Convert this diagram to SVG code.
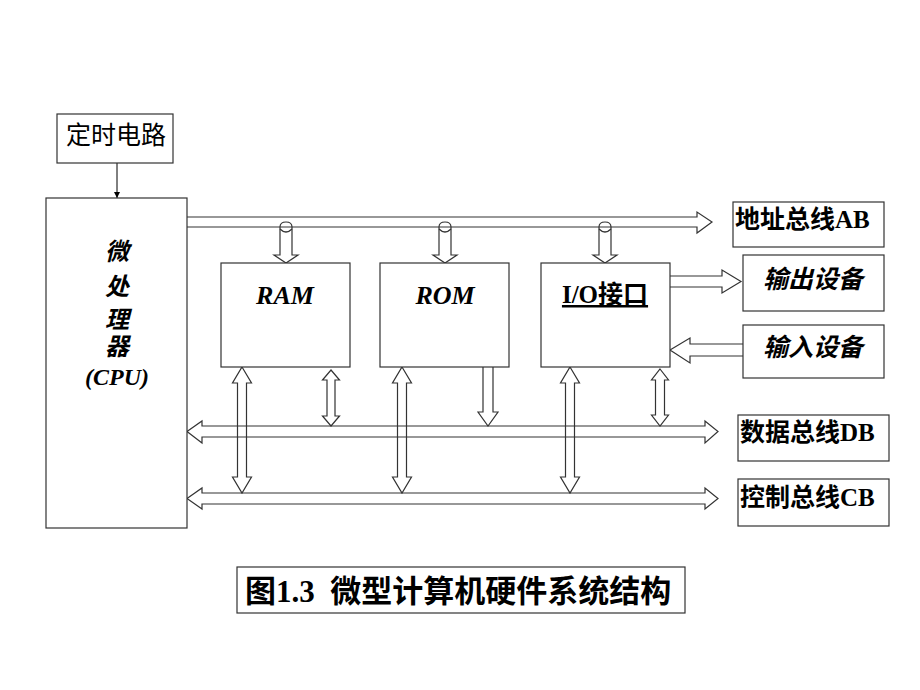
<svg xmlns="http://www.w3.org/2000/svg" width="920" height="690" viewBox="0 0 920 690">
<defs>
<style>
.box{fill:#fff;stroke:#333;stroke-width:1.2}
.arr{fill:none;stroke:#333;stroke-width:1.2;stroke-linejoin:miter}
.t{font-family:"Liberation Serif","Noto Sans CJK SC",serif;font-size:25px;fill:#000;font-weight:bold}
.ti{font-family:"Liberation Serif","Noto Sans CJK SC",serif;font-size:24px;fill:#000;font-style:italic;font-weight:bold}
.c{font-family:"Noto Sans CJK SC","Liberation Serif",sans-serif;font-size:25px;fill:#000;font-weight:normal}
</style>
<marker id="ah" viewBox="0 0 10 10" refX="10" refY="5" markerWidth="6" markerHeight="6" orient="auto"><path d="M0,0 L10,5 L0,10 Z" fill="#000"/></marker>
</defs>
<rect width="920" height="690" fill="#fff"/>

<g id="connectors">
<line x1="117" y1="163" x2="117" y2="198" stroke="#000" stroke-width="1" marker-end="url(#ah)"/>
<path class="arr" d="M187,217 H697 V212 L712,222 L697,233 V227 H187"/>
<path class="arr" d="M280,227 Q280,222 286,222 Q292,222 292,227 V255 H298 L286,263 L274,255 H280 Z"/>
<path class="arr" d="M280,229 Q286,235 292,229"/>
<path class="arr" d="M439,227 Q439,222 445,222 Q451,222 451,227 V255 H457 L445,263 L433,255 H439 Z"/>
<path class="arr" d="M439,229 Q445,235 451,229"/>
<path class="arr" d="M599,227 Q599,222 605,222 Q611,222 611,227 V255 H617 L605,263 L593,255 H599 Z"/>
<path class="arr" d="M599,229 Q605,235 611,229"/>
<path class="arr" d="M670,276 H722 V270 L741,281.5 L722,293 V287 H670"/>
<path class="arr" d="M743,344 H690 V338 L670,350 L690,363 V356 H743"/>
<path class="arr" d="M187,431.5 L202,421 V426 H705 V421 L718,431.5 L705,443 V437 H202 V443 Z"/>
<path class="arr" d="M187,498.5 L202,488 V493 H705 V488 L718,498.5 L705,509 V504 H202 V509 Z"/>
<path class="arr" d="M242,367 L251.5,383 H246.5 V477 H251.5 L242,493 L232.5,477 H237.5 V383 H232.5 Z"/>
<path class="arr" d="M402,367 L411.5,383 H406.5 V477 H411.5 L402,493 L392.5,477 H397.5 V383 H392.5 Z"/>
<path class="arr" d="M570,367 L579.5,383 H574.5 V477 H579.5 L570,493 L560.5,477 H565.5 V383 H560.5 Z"/>
<path class="arr" d="M331,370 L339.5,380 H335 V416 H339.5 L331,426 L322.5,416 H327 V380 H322.5 Z"/>
<path class="arr" d="M660,369 L668.5,380 H664.5 V415 H668.5 L660,426 L651.5,415 H655.5 V380 H651.5 Z"/>
<path class="arr" d="M483,367 V412 H478 L488,426 L498,412 H493 V367"/>
</g>

<g id="timer">
<rect class="box" x="57" y="114" width="116" height="49"/>
<text class="c" x="116" y="144" text-anchor="middle">定时电路</text>
</g>

<g id="cpu">
<rect class="box" x="46" y="198" width="141" height="330"/>
<g class="ti" text-anchor="middle">
<text x="117" y="260">微</text>
<text x="117" y="295">处</text>
<text x="117" y="328">理</text>
<text x="117" y="355">器</text>
<text x="117" y="385">(CPU)</text>
</g>
</g>

<g id="ram">
<rect class="box" x="221" y="263" width="129" height="104"/>
<text class="ti" x="285" y="304" text-anchor="middle" style="font-size:26px">RAM</text>
</g>
<g id="rom">
<rect class="box" x="380" y="263" width="129" height="104"/>
<text class="ti" x="445" y="304" text-anchor="middle" style="font-size:26px">ROM</text>
</g>
<g id="io">
<rect class="box" x="541" y="263" width="129" height="104"/>
<text class="t" x="605" y="303" text-anchor="middle" text-decoration="underline">I/O接口</text>
</g>

<g id="ab">
<rect class="box" x="733" y="202" width="151" height="45"/>
<text class="t" x="735" y="228">地址总线AB</text>
</g>
<g id="out">
<rect class="box" x="743" y="255" width="141" height="56"/>
<text class="ti" x="813" y="288" text-anchor="middle" style="font-size:25px">输出设备</text>
</g>
<g id="in">
<rect class="box" x="743" y="325" width="141" height="53"/>
<text class="ti" x="813" y="356" text-anchor="middle" style="font-size:25px">输入设备</text>
</g>
<g id="db">
<rect class="box" x="738" y="415" width="151" height="46"/>
<text class="t" x="740" y="441">数据总线DB</text>
</g>
<g id="cb">
<rect class="box" x="738" y="479" width="151" height="47"/>
<text class="t" x="740" y="506">控制总线CB</text>
</g>

<g id="caption">
<rect class="box" x="237" y="567" width="448" height="46"/>
<text class="t" x="245" y="602" style="font-size:31px" xml:space="preserve">图1.3  微型计算机硬件系统结构</text>
</g>
</svg>
